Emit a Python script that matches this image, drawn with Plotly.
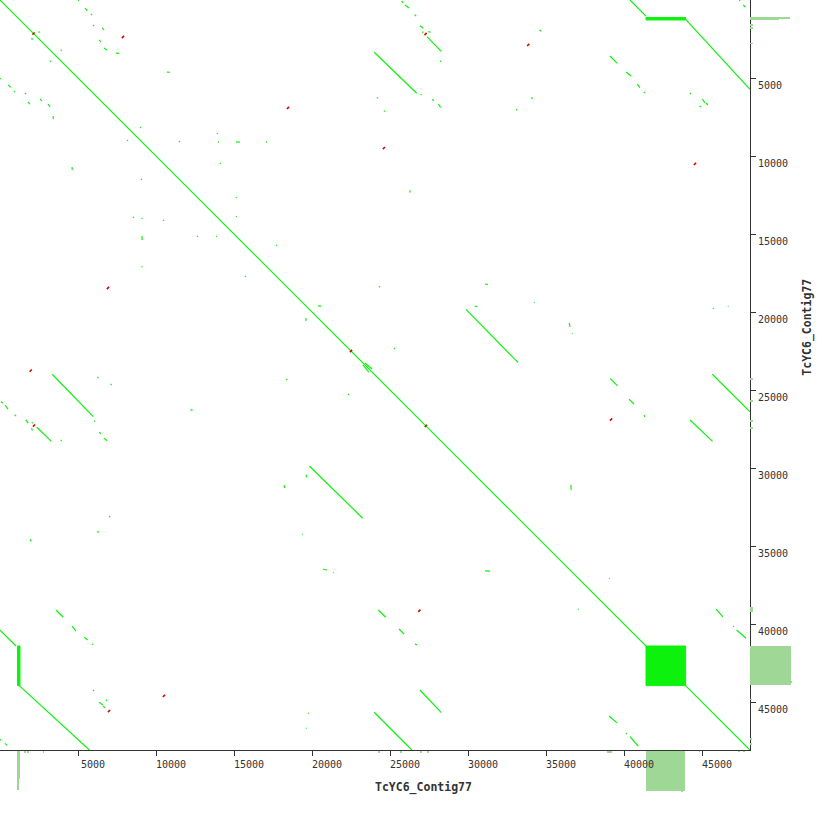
import plotly.graph_objects as go

# ---------------- data (sequence coordinates, bp) ----------------
SEQ_NAME = "TcYC6_Contig77"
SEQ_LEN = 48077
tick_values = [5000, 10000, 15000, 20000, 25000, 30000, 35000, 40000, 45000]

# forward (same-strand) hits above the diagonal; the plot is symmetric,
# so each one is also drawn mirrored below the diagonal
fwd_x1 = [40390, 43950,
          25750, 25960, 26580, 26920, 27070, 27450, 27370, 23990, 26970, 27710, 28100, 28200, 24610, 24160,
          34570, 34040, 33080,
          5020, 5450, 5830, 5960, 6540, 6350, 6670, 7440, 3890, 2440, 10700,
          24290, 31090, 20380, 25250, 30420, 29870, 23400,
          39100, 40320, 41280, 44230, 45660,
          39100, 40130, 40850, 41280, 44230, 45020, 44850, 45250, 47390, 47650,
          8970, 11470, 15130, 17050, 13910, 13970, 14100, 15130, 15130, 17690, 26280, 34230, 36490,
          45700, 46660, 36600, 36670, 39040, 45900, 47000, 47220]
fwd_y1 = [0, 1240,
          60, 320, 940, 1650, 2030, 2030, 2350, 3350, 6030, 6350, 6670, 3890, 7090, 6240,
          1920, 6240, 6990,
          0, 530, 900, 1600, 1790, 2560, 3080, 3400, 3190, 2050, 4620,
          18350, 18220, 19610, 22310, 19630, 19830, 23270,
          24250, 25580, 26600, 26920, 23990,
          3590, 4620, 5400, 5900, 5960, 6350, 6790, 6600, 0, 320,
          8140, 9040, 9100, 9100, 8530, 9100, 10450, 12630, 13850, 15700, 12200, 19360, 20700,
          19740, 19620, 31090, 21350, 37050, 39040, 40130, 40380]
fwd_x2 = [41410, 48077,
          25830, 26220, 26680, 27130, 27130, 27610, 28290, 26710, 27020, 27800, 28250, 28270, 24680, 24230,
          34700, 34150, 33140,
          5070, 5600, 5900, 6030, 6670, 6470, 6860, 7630, 3960, 2560, 10900,
          24360, 31280, 20580, 25310, 30610, 33220, 23850,
          39570, 40640, 41340, 45680, 48077,
          39570, 40450, 41020, 41340, 44290, 45190, 44930, 45380, 47450, 47770,
          9030, 11530, 15380, 17130, 13960, 14040, 14150, 15170, 15170, 17740, 26290, 34270, 36540,
          45750, 46700, 36610, 36710, 39080, 46340, 47050, 47820]
fwd_y2 = [1030, 5730,
          190, 510, 1030, 1810, 2100, 2070, 3290, 5980, 6090, 6470, 6880, 3960, 7160, 6310,
          2010, 6330, 7070,
          60, 690, 960, 1670, 1920, 2690, 3210, 3420, 3250, 2060, 4630,
          18420, 18230, 19620, 22370, 19640, 23250, 23650,
          24720, 25900, 26730, 28290, 26400,
          4060, 4870, 5620, 5960, 6030, 6600, 6860, 6730, 60, 450,
          8200, 9100, 9110, 9110, 8580, 9110, 10500, 12690, 13910, 15760, 12350, 19400, 20960,
          19790, 19660, 31410, 21390, 37090, 39550, 40190, 40910]

# tandem-repeat blocks (x0, x1, y0, y1); the off-diagonal band is mirrored
block_x0 = [41410, 41410]
block_x1 = [43950, 43950]
block_y0 = [41410, 1120]
block_y1 = [43950, 1280]
block_mirror = [False, True]

# reverse-strand hits (centres)
rev_x = [27280, 2180, 33860, 1970, 2150, 7880, 22500, 27300, 18460, 6920, 24610, 39170, 26880, 44550, 10510, 6990]
rev_y = [2180, 27280, 2880, 23760, 2150, 2370, 22500, 27300, 6920, 18460, 9490, 26890, 39150, 10510, 44610, 45580]

# repeat coverage histogram (start, end, depth)
cov_start = [41410, 43660, 1120, 1160, 1600, 1790, 2760, 38930, 44830, 47330, 47630, 24290, 25650, 26950, 27430]
cov_end = [43910, 43720, 1160, 1260, 1640, 1830, 2800, 39200, 44870, 47400, 47700, 24330, 25750, 26990, 27470]
cov_depth = [40.5, 42, 40, 29, 3, 3, 3, 3, 2, 2, 2, 3, 3, 3, 3]

GREEN = "#0cf20c"
RED = "#e00000"
COV = "#9fd796"
AX = "#333333"
FONT = "DejaVu Sans Mono"

fig = go.Figure()

# coverage histograms (bottom first so the main axis labels sit on top)
mids = [(s + e) / 2 for s, e in zip(cov_start, cov_end)]
widths = [e - s for s, e in zip(cov_start, cov_end)]
fig.add_trace(go.Bar(x=mids, y=cov_depth, width=widths, base=0,
                     marker=dict(color=COV, line=dict(width=0)), xaxis="x2", yaxis="y", hoverinfo="skip"))
fig.add_trace(go.Bar(y=mids, x=cov_depth, width=widths, orientation="h", base=0,
                     marker=dict(color=COV, line=dict(width=0)), xaxis="x3", yaxis="y2", hoverinfo="skip"))

# forward hits (both halves + main diagonal)
lx, ly = [0, SEQ_LEN, None], [0, SEQ_LEN, None]
for a, b, c, d in zip(fwd_x1, fwd_y1, fwd_x2, fwd_y2):
    lx += [a, c, None, b, d, None]
    ly += [b, d, None, a, c, None]
fig.add_trace(go.Scatter(x=lx, y=ly, mode="lines", line=dict(color=GREEN, width=1.2),
                         xaxis="x2", yaxis="y2", hoverinfo="skip"))

# blocks
for x0, x1, y0, y1, m in zip(block_x0, block_x1, block_y0, block_y1, block_mirror):
    shapes = [(x0, x1, y0, y1)]
    if m:
        shapes.append((y0, y1, x0, x1))
    for a0, a1, b0, b1 in shapes:
        fig.add_trace(go.Scatter(x=[a0, a1, a1, a0, a0], y=[b0, b0, b1, b1, b0], mode="lines",
                                 fill="toself", fillcolor=GREEN, line=dict(color=GREEN, width=1),
                                 xaxis="x2", yaxis="y2", hoverinfo="skip"))

# reverse hits: short anti-diagonal ticks
rx, ry = [], []
for cx, cy in zip(rev_x, rev_y):
    rx += [cx - 70, cx + 70, None]
    ry += [cy + 70, cy - 70, None]
fig.add_trace(go.Scatter(x=rx, y=ry, mode="lines", line=dict(color=RED, width=1.6),
                         xaxis="x2", yaxis="y2", hoverinfo="skip"))

axis_common = dict(tickvals=tick_values, tickformat="d", ticks="outside", ticklen=5, tickcolor=AX, tickwidth=1,
                   showline=True, linecolor=AX, linewidth=1, mirror=True, showgrid=False,
                   zeroline=False, tickfont=dict(family=FONT, size=10, color=AX))

fig.update_layout(
    width=830, height=830, margin=dict(l=0, r=0, t=0, b=0),
    paper_bgcolor="white", plot_bgcolor="white", showlegend=False, bargap=0,
    xaxis2=dict(domain=[0, 750 / 830], range=[0, SEQ_LEN], anchor="y2", ticklabelshift=15, **axis_common),
    yaxis2=dict(domain=[80 / 830, 1], range=[SEQ_LEN, 0], anchor="x2", side="right", ticklabelshift=-7,
                **axis_common),
    xaxis3=dict(domain=[750 / 830, 1], range=[0, 80], anchor="y2", visible=False),
    yaxis=dict(domain=[0, 80 / 830], range=[80, 0], anchor="x2", visible=False),
    xaxis=dict(visible=False),
    annotations=[
        dict(text="<b>" + SEQ_NAME + "</b>", xref="paper", yref="paper", x=423.7 / 830, y=1 - 797 / 830,
             showarrow=False, font=dict(family=FONT, size=11.5, color=AX)),
        dict(text="<b>" + SEQ_NAME + "</b>", xref="paper", yref="paper", x=816.7 / 830, y=1 - 327.5 / 830,
             showarrow=False, textangle=-90, font=dict(family=FONT, size=11.5, color=AX)),
    ],
)

fig.write_html("out.html", config={"displayModeBar": False},
               post_script="document.body.style.margin='0px';document.body.style.padding='0px';")
